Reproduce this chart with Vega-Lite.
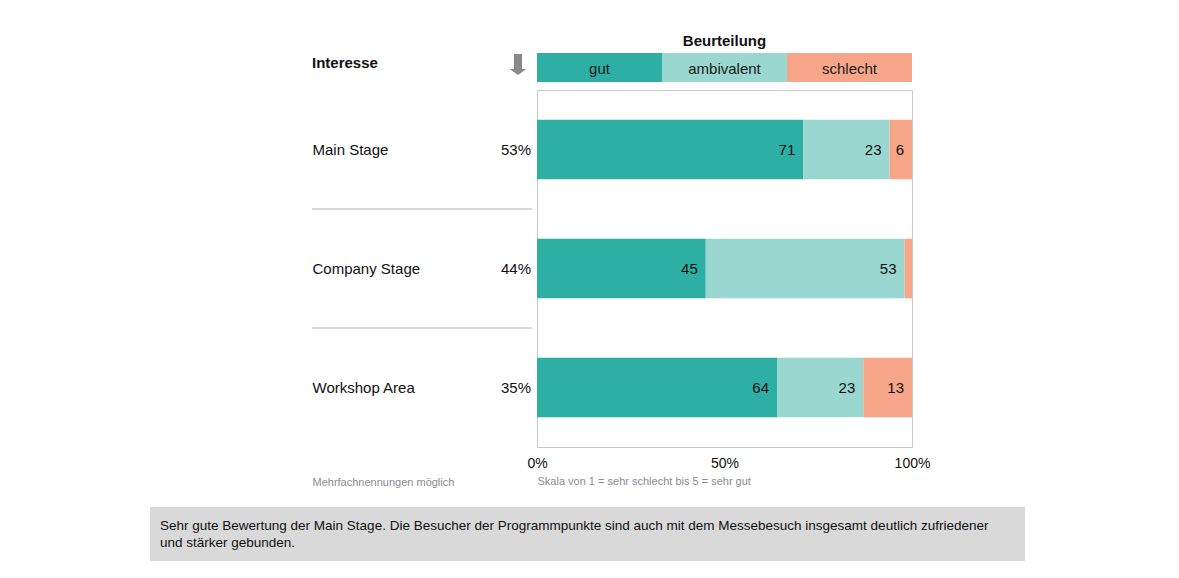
{
  "$schema": "https://vega.github.io/schema/vega-lite/v6.json",
  "padding": {"left": 150, "top": 34, "right": 154, "bottom": 17},
  "background": "white",
  "config": {
    "font": "Liberation Sans",
    "view": {"stroke": null},
    "axis": {"labelFont": "Liberation Sans", "titleFont": "Liberation Sans"}
  },
  "datasets": {
    "bereiche": [
      {"bereich": "Main Stage", "interesse": 0.53},
      {"bereich": "Company Stage", "interesse": 0.44},
      {"bereich": "Workshop Area", "interesse": 0.35}
    ],
    "urteile": [
      {"bereich": "Main Stage", "kategorie": "gut", "ord": 1, "wert": 71},
      {"bereich": "Main Stage", "kategorie": "ambivalent", "ord": 2, "wert": 23},
      {"bereich": "Main Stage", "kategorie": "schlecht", "ord": 3, "wert": 6},
      {"bereich": "Company Stage", "kategorie": "gut", "ord": 1, "wert": 45},
      {"bereich": "Company Stage", "kategorie": "ambivalent", "ord": 2, "wert": 53},
      {"bereich": "Company Stage", "kategorie": "schlecht", "ord": 3, "wert": 2},
      {"bereich": "Workshop Area", "kategorie": "gut", "ord": 1, "wert": 64},
      {"bereich": "Workshop Area", "kategorie": "ambivalent", "ord": 2, "wert": 23},
      {"bereich": "Workshop Area", "kategorie": "schlecht", "ord": 3, "wert": 13}
    ],
    "kategorien": [
      {"kategorie": "gut"},
      {"kategorie": "ambivalent"},
      {"kategorie": "schlecht"}
    ],
    "fazit": [
      {"text": "Sehr gute Bewertung der Main Stage. Die Besucher der Programmpunkte sind auch mit dem Messebesuch insgesamt deutlich zufriedener\nund stärker gebunden."}
    ]
  },
  "bounds": "full",
  "spacing": 7,
  "vconcat": [
    {
      "bounds": "flush",
      "spacing": 5,
      "hconcat": [
        {
          "width": 157, "height": 29,
          "data": {"values": [{"leer": ""}]},
          "mark": {"type": "text"},
          "encoding": {"text": {"field": "leer"}}
        },
        {
          "width": 220, "height": 29,
          "layer": [
            {
              "data": {"values": [{"titel": "Interesse"}]},
              "mark": {"type": "text", "align": "left", "baseline": "middle", "dy": -5, "fontSize": 15, "fontWeight": "bold", "color": "#111111"},
              "encoding": {
                "x": {"datum": 0, "type": "quantitative", "scale": {"domain": [0, 1]}, "axis": null},
                "text": {"field": "titel"}
              }
            },
            {
              "data": {"values": [{"symbol": "pfeil"}]},
              "mark": {"type": "point", "shape": "M-0.38,-1L0.38,-1L0.38,0.43L0.8,0.43L0,1L-0.8,0.43L-0.38,0.43Z", "size": 441, "filled": true, "color": "#8a8a8a", "opacity": 1},
              "encoding": {
                "x": {"datum": 1, "type": "quantitative", "scale": {"domain": [0, 1]}, "axis": null},
                "xOffset": {"value": -14},
                "yOffset": {"value": -3}
              }
            }
          ]
        },
        {
          "width": 375, "height": 29,
          "data": {"name": "kategorien"},
          "title": {"text": "Beurteilung", "fontSize": 15, "fontWeight": "bold", "anchor": "middle", "offset": 4, "color": "#111111"},
          "encoding": {
            "x": {"field": "kategorie", "type": "nominal", "sort": ["gut", "ambivalent", "schlecht"], "scale": {"paddingInner": 0, "paddingOuter": 0}, "axis": null}
          },
          "layer": [
            {
              "mark": {"type": "rect"},
              "encoding": {
                "y": {"datum": 0, "type": "quantitative", "scale": {"domain": [0, 1]}, "axis": null},
                "y2": {"datum": 1},
                "color": {"field": "kategorie", "type": "nominal", "scale": {"domain": ["gut", "ambivalent", "schlecht"], "range": ["#2eafa4", "#99d7d0", "#f8a68a"]}, "legend": null}
              }
            },
            {
              "mark": {"type": "text", "fontSize": 15, "color": "#1a1a1a", "baseline": "middle", "dy": 1},
              "encoding": {"text": {"field": "kategorie"}}
            }
          ]
        }
      ]
    },
    {
      "bounds": "flush",
      "spacing": 5,
      "hconcat": [
        {
          "width": 157, "height": 357,
          "data": {"values": [{"leer": ""}]},
          "mark": {"type": "text"},
          "encoding": {"text": {"field": "leer"}}
        },
        {
          "width": 220, "height": 357,
          "data": {"name": "bereiche"},
          "encoding": {
            "y": {"field": "bereich", "type": "nominal", "sort": ["Main Stage", "Company Stage", "Workshop Area"], "scale": {"paddingInner": 0.5, "paddingOuter": 0.25},
              "axis": {"title": null, "domain": false, "ticks": false, "tickSize": 0, "labelAlign": "left", "labelBaseline": "middle", "labelPadding": 0, "labelFontSize": 15, "labelColor": "#111111", "grid": false, "labelLimit": 300}}
          },
          "layer": [
            {
              "transform": [{"filter": "datum.bereich !== 'Workshop Area'"}],
              "mark": {"type": "rule", "color": "#b0b0b0", "strokeWidth": 1},
              "encoding": {
                "y": {"field": "bereich", "type": "nominal", "sort": ["Main Stage", "Company Stage", "Workshop Area"], "bandPosition": 1.5}
              }
            },
            {
              "mark": {"type": "text", "align": "right", "baseline": "middle", "dx": -1, "fontSize": 15, "color": "#111111"},
              "encoding": {
                "x": {"datum": 1, "type": "quantitative", "scale": {"domain": [0, 1]},
                  "axis": {"title": "Mehrfachnennungen möglich", "labels": false, "ticks": false, "tickSize": 0, "domain": false, "grid": false, "titleAnchor": "start", "titleFontSize": 11, "titleFontWeight": "normal", "titleColor": "#8c8c8c", "titlePadding": 29}},
                "text": {"field": "interesse", "type": "quantitative", "format": ".0%"}
              }
            }
          ]
        },
        {
          "width": 375, "height": 357,
          "data": {"name": "urteile"},
          "view": {"stroke": "#c8c8c8", "strokeWidth": 1},
          "encoding": {
            "y": {"field": "bereich", "type": "nominal", "sort": ["Main Stage", "Company Stage", "Workshop Area"], "scale": {"paddingInner": 0.5, "paddingOuter": 0.25}, "axis": null},
            "x": {"field": "wert", "type": "quantitative", "stack": "zero", "scale": {"domain": [0, 100], "nice": false},
              "axis": {"values": [0, 50, 100], "labelExpr": "datum.value + '%'", "title": "Skala von 1 = sehr schlecht bis 5 = sehr gut", "titleAnchor": "start", "titleFontSize": 11, "titleFontWeight": "normal", "titleColor": "#8c8c8c", "titlePadding": 5, "labelFontSize": 14, "labelColor": "#111111", "labelPadding": 9, "ticks": false, "tickSize": 0, "domain": false, "grid": false, "labelFlush": false}},
            "order": {"field": "ord", "type": "quantitative"}
          },
          "layer": [
            {
              "mark": {"type": "bar"},
              "encoding": {
                "color": {"field": "kategorie", "type": "nominal", "scale": {"domain": ["gut", "ambivalent", "schlecht"], "range": ["#2eafa4", "#99d7d0", "#f8a68a"]}, "legend": null}
              }
            },
            {
              "mark": {"type": "text", "align": "right", "baseline": "middle", "dx": -8, "fontSize": 15, "color": "#111111"},
              "encoding": {
                "text": {"field": "wert", "type": "quantitative"},
                "opacity": {"condition": {"test": "datum.wert < 5", "value": 0}, "value": 1}
              }
            }
          ]
        }
      ]
    },
    {
      "width": 875, "height": 54,
      "data": {"name": "fazit"},
      "view": {"fill": "#d9d9d9", "stroke": null},
      "title": {"text": " ", "fontSize": 10, "offset": 3},
      "mark": {"type": "text", "align": "left", "baseline": "middle", "dx": 10, "dy": -8.5, "fontSize": 13.5, "lineHeight": 17, "lineBreak": "\n", "color": "#111111"},
      "encoding": {
        "x": {"datum": 0, "type": "quantitative", "scale": {"domain": [0, 1]}, "axis": null},
        "text": {"field": "text"}
      }
    }
  ]
}
